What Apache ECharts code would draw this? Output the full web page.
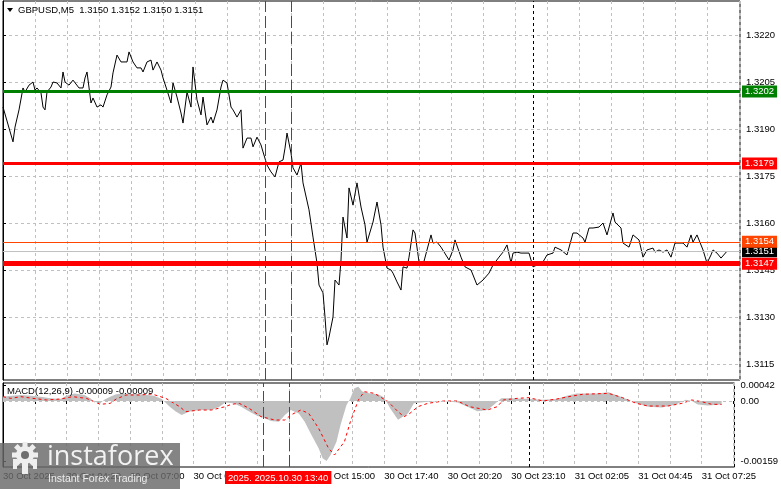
<!DOCTYPE html>
<html><head><meta charset="utf-8">
<script src="https://cdn.jsdelivr.net/npm/echarts@6/dist/echarts.min.js"></script>
<style>html,body{margin:0;padding:0;background:#fff}#c{width:781px;height:489px}</style>
</head><body><div id="c"></div>
<script>
// ---- data (bar index = M5 bar counted from the left edge) ----
const priceBars = [0,5,6,8,10,11,13,15,16,17,19,20,21,22,24,25,27,29,30,31,33,35,36,38,40,41,42,44,45,47,49,50,52,54,55,57,59,60,62,63,65,67,69,70,72,74,75,77,79,80,82,84,85,87,89,90,92,94,95,97,99,100,102,104,105,107,109,110,112,114,115,117,119,120,122,124,125,127,129,130,132,134,135,136,138,140,141,142,144,145,147,149,150,153,155,157,158,160,161,162,163,165,166,168,169,170,172,173,175,177,179,181,182,185,187,189,190,192,194,195,197,199,200,202,203,205,206,208,210,211,214,215,217,219,220,223,225,226,229,231,234,236,237,240,241,243,245,248,250,252,254,255,257,259,260,263,265,267,270,272,275,276,279,282,285,287,290,291,293,295,298,300,302,305,306,309,310,313,315,318,320,322,325,326,328,330,332,334,336,340,342,344,345,347,350,352,354,355,357,359,360,362];
const priceVals = [1.31970,1.31859,1.31906,1.31961,1.32031,1.32018,1.32040,1.32050,1.32024,1.32031,1.32015,1.31970,1.31961,1.32018,1.32034,1.32050,1.32047,1.32031,1.32082,1.32050,1.32040,1.32056,1.32050,1.32031,1.32031,1.32063,1.32082,1.31983,1.31999,1.31970,1.31977,1.31970,1.32009,1.32034,1.32079,1.32136,1.32114,1.32120,1.32114,1.32146,1.32114,1.32095,1.32095,1.32082,1.32114,1.32120,1.32088,1.32114,1.32088,1.32063,1.32024,1.31983,1.32047,1.32002,1.31951,1.31919,1.32018,1.31970,1.32098,1.31993,1.31945,1.32002,1.31913,1.31938,1.31919,1.31961,1.32034,1.32056,1.32047,1.31970,1.31961,1.31938,1.31961,1.31839,1.31871,1.31871,1.31843,1.31874,1.31849,1.31827,1.31785,1.31763,1.31760,1.31747,1.31795,1.31801,1.31839,1.31887,1.31823,1.31776,1.31753,1.31791,1.31728,1.31642,1.31555,1.31472,1.31402,1.31377,1.31300,1.31211,1.31236,1.31300,1.31418,1.31402,1.31482,1.31619,1.31552,1.31712,1.31657,1.31728,1.31651,1.31594,1.31539,1.31603,1.31667,1.31594,1.31523,1.31456,1.31450,1.31440,1.31412,1.31386,1.31460,1.31456,1.31491,1.31578,1.31568,1.31476,1.31466,1.31460,1.31562,1.31536,1.31539,1.31523,1.31520,1.31482,1.31514,1.31546,1.31491,1.31460,1.31450,1.31418,1.31402,1.31418,1.31424,1.31440,1.31466,1.31491,1.31507,1.31530,1.31472,1.31504,1.31507,1.31504,1.31507,1.31504,1.31460,1.31466,1.31476,1.31498,1.31504,1.31523,1.31514,1.31498,1.31568,1.31568,1.31552,1.31539,1.31584,1.31584,1.31587,1.31600,1.31562,1.31632,1.31603,1.31584,1.31536,1.31523,1.31562,1.31546,1.31491,1.31514,1.31520,1.31507,1.31514,1.31507,1.31514,1.31491,1.31536,1.31536,1.31523,1.31562,1.31539,1.31562,1.31514,1.31472,1.31498,1.31514,1.31504,1.31488,1.31488,1.31510];

const histBars = [0,4,9,14,19,24,29,32,36,41,44,46,49,51,54,57,61,69,76,80,84,87,90,94,99,105,109,112,116,120,124,128,132,135,139,142,145,149,152,155,159,161,163,165,168,170,173,175,177,179,181,185,189,192,195,199,200,204,207,214,222,229,234,239,244,247,251,255,265,272,279,284,289,299,305,310,315,319,325,332,339,344,347,350,355,362];
const histVals = [0.000115,0.00014,0.00016,0.00014,0.000115,0.00007,0.00005,0.00014,0.0002,0.00016,0.00007,-0.00002,-0.00006,0.00003,0.00011,0.00018,0.0002,0.00018,0.00014,0.00005,-0.00015,-0.00028,-0.00037,-0.00028,-0.00024,-0.00024,-0.00015,-0.00004,-0.00006,-0.00015,-0.00028,-0.00039,-0.00046,-0.00053,-0.00055,-0.00037,-0.00024,-0.00033,-0.00055,-0.00086,-0.00125,-0.00152,-0.00159,-0.00143,-0.00108,-0.00064,-0.00011,0.00007,0.00034,0.00038,0.00025,0.0002,0.00018,0.00009,-0.00019,-0.0005,-0.00055,-0.00033,-0.00006,-0.00002,0,-0.00004,-0.00015,-0.00027,-0.00024,-0.00011,0.00007,0.00007,0.00005,0.00003,0.00005,0.00014,0.0002,0.0002,0.00023,0.00014,0.00003,-0.00006,-0.00015,-0.00017,-0.00009,0.00003,0,-0.00009,-0.00012,-0.00009];

const sigBars = [0,4,9,15,22,29,35,42,49,54,57,62,69,75,82,89,92,99,105,112,115,119,124,130,137,142,145,150,154,159,164,167,172,175,179,182,187,189,194,199,202,205,209,214,222,229,235,244,249,252,259,265,272,279,285,292,305,312,319,325,335,342,347,352,357,362];
const sigVals = [0.000115,0.00007,0.000115,0.00007,0.000027,0.000053,0.000115,0.00007,-0.000088,-0.000062,0.000053,0.000159,0.000159,0.000186,0.00007,-0.00015,-0.000283,-0.000239,-0.000239,-0.00015,-0.000088,-0.000062,-0.000194,-0.000415,-0.000504,-0.000504,-0.000371,-0.000239,-0.000327,-0.000724,-0.001254,-0.001431,-0.001078,-0.000548,0.000027,0.000247,0.000203,0.000141,-0.000018,-0.000283,-0.000415,-0.000327,-0.00015,-0.000062,0,0,-0.00015,-0.000239,-0.00015,0.000027,0.00007,0.000088,0,0.000053,0.000115,0.000177,0.000203,0.00009,-0.000062,-0.000133,-0.000133,-0.000062,0.000027,-0.000018,-0.000088,-0.00009];

const timeLabels = ["30 Oct 2025","30 Oct 04:20","30 Oct 07:00","30 Oct 09:40","30 Oct 12:20","30 Oct 15:00","30 Oct 17:40","30 Oct 20:20","30 Oct 23:10","31 Oct 02:05","31 Oct 04:45","31 Oct 07:25"];
const priceTicks = [1.3115,1.3130,1.3145,1.3160,1.3175,1.3190,1.3205,1.3220];
const macdTicks = [-0.00159, 0, 0.00042];
const levelValues = [1.3151, 1.3202, 1.3179, 1.3154, 1.3147];
const levelLabels = ["1.3151","1.3202","1.3179","1.3154","1.3147"];
const redVLines = [131, 144];
const blackVLines = [265];
const titleText = "GBPUSD,M5  1.3150 1.3152 1.3150 1.3151";
const macdText = "MACD(12,26,9) -0.00009 -0.00009";
const cursorText = "2025. 2025.10.30 13:40";

// ---- styles ----
const FONT = 'Liberation Sans';
const FS = 9.5;
const levelStyles = [
  {color:'#c0c0c0', width:1, tag:'#000000'},
  {color:'#008000', width:3, tag:'#008000'},
  {color:'#ff0000', width:3, tag:'#ff0000'},
  {color:'#ff4500', width:1, tag:'#ff4500'},
  {color:'#ff0000', width:5, tag:'#ff0000'}
];
const zip = (a, b) => a.map((v, i) => [v, b[i]]);
const gridDash = {color:'#c0c0c0', type:[3,3], width:1};

function xAxis(gi, labels){
  return {
    type:'value', gridIndex:gi, min:0, max:368.5, interval:16,
    axisLine:{show:false},
    axisTick:{show:labels, length:3, lineStyle:{color:'#000'}},
    axisLabel:{show:labels, align:'left', margin:4, fontSize:FS, fontFamily:FONT, color:'#000',
      showMaxLabel:false,
      formatter:v => (v % 32 === 0 && timeLabels[v/32]) ? timeLabels[v/32] : ''},
    splitLine:{show:true, lineStyle:gridDash}
  };
}

const vLines = redVLines.map(b => ({xAxis:b, lineStyle:{color:'#ff0000', type:[12,4], width:1}}))
  .concat(blackVLines.map(b => ({xAxis:b, lineStyle:{color:'#000', type:[3,3], width:1}})));

const levelLines = levelValues.map((v, i) => ({
  yAxis:v,
  lineStyle:{color:levelStyles[i].color, width:levelStyles[i].width, type:'solid'},
  label:{show:true, position:'end', distance:2, formatter:levelLabels[i], color:'#fff',
    backgroundColor:levelStyles[i].tag, padding:[1,3,1,3], fontSize:FS, fontFamily:FONT, lineHeight:10}
}));

const option = {
  animation:false,
  backgroundColor:'#fff',
  grid:[
    {left:3, top:1, width:737, height:379, show:true, borderColor:'#000', borderWidth:1, backgroundColor:'transparent'},
    {left:3, top:383, width:737, height:84, show:true, borderColor:'#000', borderWidth:1, backgroundColor:'transparent'}
  ],
  xAxis:[xAxis(0,false), xAxis(1,true)],
  yAxis:[
    {type:'value', gridIndex:0, position:'right', min:1.3109894, max:1.3230851, scale:true,
     axisLine:{show:true, lineStyle:{color:'#000'}},
     axisTick:{show:true, length:3, customValues:priceTicks, lineStyle:{color:'#000'}},
     axisLabel:{customValues:priceTicks, formatter:v => v.toFixed(4), margin:6, fontSize:FS, fontFamily:FONT, color:'#000'},
     splitLine:{show:true, lineStyle:gridDash}},
    {type:'value', gridIndex:1, position:'right', min:-0.001749, max:0.000477,
     axisLine:{show:true, lineStyle:{color:'#000'}},
     axisTick:{show:true, length:3, customValues:macdTicks, lineStyle:{color:'#000'}},
     axisLabel:{customValues:macdTicks, formatter:v => v === 0 ? '0.00' : v.toFixed(5), margin:6, fontSize:FS, fontFamily:FONT, color:'#000'},
     splitLine:{show:false}}
  ],
  series:[
    {type:'line', name:'price', xAxisIndex:0, yAxisIndex:0, data:zip(priceBars, priceVals),
     showSymbol:false, symbol:'none', lineStyle:{color:'#000', width:1}, z:2,
     markLine:{symbol:'none', silent:true, precision:6, label:{show:false}, data:vLines}},
    {type:'line', name:'levels', xAxisIndex:0, yAxisIndex:0, data:zip(priceBars, priceVals), z:4, silent:true,
     showSymbol:false, symbol:'none', lineStyle:{opacity:0, width:0},
     markLine:{symbol:'none', silent:true, precision:6, data:levelLines}},
    {type:'line', name:'hist', xAxisIndex:1, yAxisIndex:1, data:zip(histBars, histVals),
     showSymbol:false, symbol:'none', lineStyle:{width:0, color:'#c0c0c0'}, areaStyle:{color:'#c0c0c0', opacity:1}, z:2,
     markLine:{symbol:'none', silent:true, precision:6, label:{show:false},
       data:vLines.concat([{yAxis:0, lineStyle:{color:'#c0c0c0', type:[3,3], width:1}}])}},
    {type:'line', name:'signal', xAxisIndex:1, yAxisIndex:1, data:zip(sigBars, sigVals),
     showSymbol:false, symbol:'none', lineStyle:{color:'#ff0000', width:1, type:[3,3]}, z:3}
  ],
  graphic:[
    {type:'polygon', shape:{points:[[7,8],[13,8],[10,12]]}, style:{fill:'#000'}, z:10},
    {type:'text', x:18, y:5, style:{text:titleText, fontSize:FS, fontFamily:FONT, fill:'#000'}, z:10},
    {type:'text', x:7, y:386, style:{text:macdText, fontSize:FS, fontFamily:FONT, fill:'#000'}, z:10},
    {type:'text', x:225, y:471, style:{text:cursorText, fontSize:FS, fontFamily:FONT, fill:'#fff', backgroundColor:'#ff0000', padding:[2,3,1,3]}, z:10},
    {type:'rect', shape:{x:0, y:443, width:180, height:46}, style:{fill:'rgba(105,105,105,0.82)'}, z:20},
    {type:'group', x:25, y:455, z:21, children:[
      {type:'circle', shape:{cx:0, cy:0, r:9}, style:{fill:'#eeeeee'}, z:21},
      ...[0,1,2,3,4,5,6,7].map(k => ({type:'rect', rotation:k*Math.PI/4, shape:{x:-2.5, y:-13, width:5, height:6}, style:{fill:'#eeeeee'}, z:21})),
      {type:'circle', shape:{cx:0, cy:0, r:4}, style:{fill:'#6e6e6e'}, z:22},
      {type:'rect', shape:{x:-3, y:7, width:6, height:12}, style:{fill:'#eeeeee'}, z:21},
      {type:'rect', shape:{x:-12, y:4, width:4, height:10}, style:{fill:'#eeeeee'}, z:21},
      {type:'rect', shape:{x:8, y:4, width:4, height:10}, style:{fill:'#eeeeee'}, z:21}
    ]},
    {type:'text', x:47, y:444, style:{text:'instaforex', fontSize:27, fontFamily:'Open Sans', fill:'#f2f2f2'}, z:22},
    {type:'text', x:48, y:474, style:{text:'Instant Forex Trading', fontSize:10.5, fontFamily:FONT, fill:'#ececec'}, z:22}
  ]
};
const chart = echarts.init(document.getElementById('c'), null, {renderer:'canvas'});
chart.setOption(option);
</script></body></html>
